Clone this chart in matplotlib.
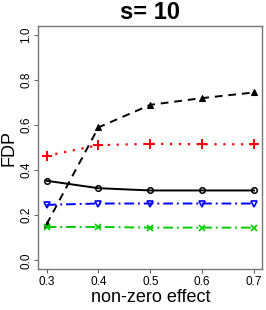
import matplotlib
matplotlib.use("Agg")
import matplotlib.pyplot as plt

plt.rcParams["font.family"] = ["Liberation Sans", "DejaVu Sans"]

# non-zero effect sizes
effect = [0.3, 0.4, 0.5, 0.6, 0.7]

# FDP for each method
fdp_triangle = [0.16, 0.59, 0.69, 0.72, 0.745]
fdp_plus = [0.464, 0.511, 0.517, 0.515, 0.515]
fdp_circle = [0.353, 0.32, 0.31, 0.31, 0.31]
fdp_invtri = [0.246, 0.252, 0.252, 0.252, 0.252]
fdp_cross = [0.148, 0.148, 0.145, 0.145, 0.145]

xticks = [0.3, 0.4, 0.5, 0.6, 0.7]
yticks = [0.0, 0.2, 0.4, 0.6, 0.8, 1.0]

fig = plt.figure(figsize=(2.66, 3.10), dpi=100)
ax = fig.add_axes([38.3 / 266, (310 - 269.3) / 310, (262.3 - 38.3) / 266, (269.3 - 26) / 310])

ax.plot(effect, fdp_circle, color="black", lw=1.4, marker="o", ms=4,
        mfc="none", mew=1.1)
ax.plot(effect, fdp_triangle, color="black", lw=1.4, ls=(0, (4, 3)), marker="^",
        ms=4, mew=0.8)
ax.plot(effect, fdp_plus, color="red", lw=1.6, ls=(0, (1, 3)), marker="+",
        ms=7, mew=1.4)
ax.plot(effect, fdp_invtri, color="blue", lw=1.4, ls=(0, (5, 2, 1, 2)), marker="v",
        ms=4.5, mfc="none", mew=1.2)
ax.plot(effect, fdp_cross, color="#00cc00", lw=1.4, ls=(0, (5, 2, 1, 2)), marker="x",
        ms=4, mew=1.2)

ax.set_xlim(0.284, 0.716)
ax.set_ylim(-0.04, 1.04)
ax.set_xticks(xticks)
ax.set_xticklabels([f"{v:.1f}" for v in xticks], fontsize=8.5)
ax.set_yticks(yticks)
ax.set_yticklabels([f"{v:.1f}" for v in yticks], fontsize=8.5, rotation=90, va="center")
ax.tick_params(length=3, width=0.8, color="#666666", pad=1.5)

for sp in ax.spines.values():
    sp.set_color("#777777")
    sp.set_linewidth(1.0)

ax.set_title("s= 10", fontsize=17, fontweight="bold", pad=5)
ax.set_xlabel("non-zero effect", fontsize=13, labelpad=1)
ax.set_ylabel("FDP", fontsize=13)
ax.yaxis.set_label_coords(-0.092, 0.5)

fig.savefig("out.png", dpi=100)
